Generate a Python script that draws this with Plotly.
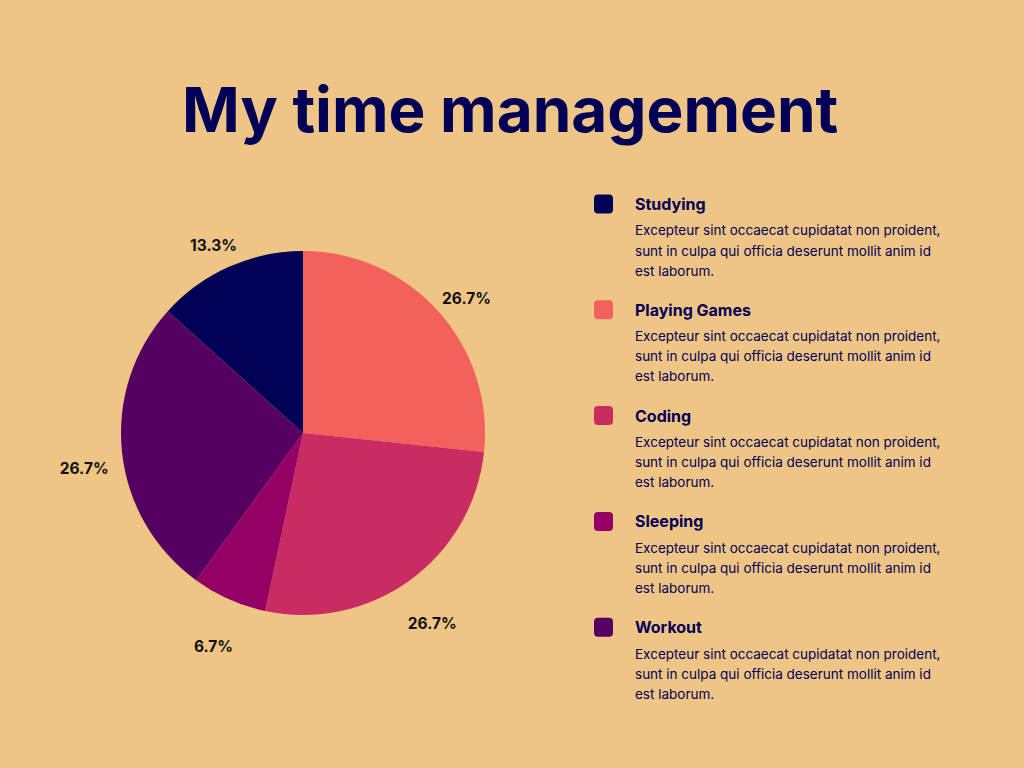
import plotly.graph_objects as go

categories = ["Studying", "Playing Games", "Coding", "Sleeping", "Workout"]
values = [2, 4, 4, 1, 4]
colors = ["#010057", "#F2615B", "#C92B63", "#940063", "#560061"]
description_lines = [
    "Excepteur sint occaecat cupidatat non proident,",
    "sunt in culpa qui officia deserunt mollit anim id",
    "est laborum.",
]

BG = "#EEC585"
NAVY = "#010057"
W, H = 1024, 768
CX, CY, R = 303, 433, 182
LCY = 446  # centre of the label ring
R_RING_IN, R_RING_OUT = 186, 254


def px(x):
    return x / W


def py(y):
    return 1 - y / H


fig = go.Figure()
# visible pie (no text)
fig.add_trace(go.Pie(
    labels=categories, values=values, sort=False, direction="clockwise",
    rotation=-48, marker=dict(colors=colors, line=dict(width=0)),
    textinfo="none",
    domain=dict(x=[px(CX - R), px(CX + R)], y=[py(CY + R), py(CY - R)]),
    showlegend=False, hoverinfo="label+percent",
))
# transparent ring around the pie that carries the percent labels
fig.add_trace(go.Pie(
    labels=categories, values=values, sort=False, direction="clockwise",
    rotation=-48, hole=R_RING_IN / R_RING_OUT,
    marker=dict(colors=["rgba(0,0,0,0)"] * len(values), line=dict(width=0)),
    textinfo="percent", textposition="inside", insidetextorientation="horizontal",
    texttemplate="%{percent:.1%}",
    insidetextfont=dict(family="Inter", size=15.5, color="#111111", weight="bold"),
    domain=dict(x=[px(CX - R_RING_OUT), px(CX + R_RING_OUT)],
                y=[py(LCY + R_RING_OUT), py(LCY - R_RING_OUT)]),
    showlegend=False, hoverinfo="skip",
))

shapes = []
annotations = []
y0 = 204
step = 105.8
for i, (cat, col) in enumerate(zip(categories, colors)):
    cy = y0 + i * step
    x1, x2 = 594, 613
    t1, t2 = cy - 9.5, cy + 9.5
    r = 4
    path = (f"M {px(x1 + r)} {py(t1)} L {px(x2 - r)} {py(t1)} "
            f"Q {px(x2)} {py(t1)} {px(x2)} {py(t1 + r)} "
            f"L {px(x2)} {py(t2 - r)} Q {px(x2)} {py(t2)} {px(x2 - r)} {py(t2)} "
            f"L {px(x1 + r)} {py(t2)} Q {px(x1)} {py(t2)} {px(x1)} {py(t2 - r)} "
            f"L {px(x1)} {py(t1 + r)} Q {px(x1)} {py(t1)} {px(x1 + r)} {py(t1)} Z")
    shapes.append(dict(type="path", xref="paper", yref="paper", path=path,
                       fillcolor=col, line=dict(width=0)))
    annotations.append(dict(
        text=f"<b>{cat}</b>", x=px(633), y=py(cy), xref="paper", yref="paper",
        xanchor="left", yanchor="middle", showarrow=False,
        font=dict(family="Inter", size=16, color=NAVY)))
    for j, line in enumerate(description_lines):
        annotations.append(dict(
            text=line, x=px(633), y=py(cy + 26.5 + 20 * j), xref="paper", yref="paper",
            xanchor="left", yanchor="middle", align="left", showarrow=False,
            font=dict(family="Inter", size=13.5, color=NAVY)))

annotations.append(dict(
    text="<b>My time management</b>", x=px(510), y=py(110), xref="paper", yref="paper",
    xanchor="center", yanchor="middle", showarrow=False,
    font=dict(family="Inter", size=62, color=NAVY)))

fig.update_layout(
    width=W, height=H, margin=dict(l=0, r=0, t=0, b=0),
    paper_bgcolor=BG, plot_bgcolor=BG,
    shapes=shapes, annotations=annotations,
)
fig.write_html("out.html")
